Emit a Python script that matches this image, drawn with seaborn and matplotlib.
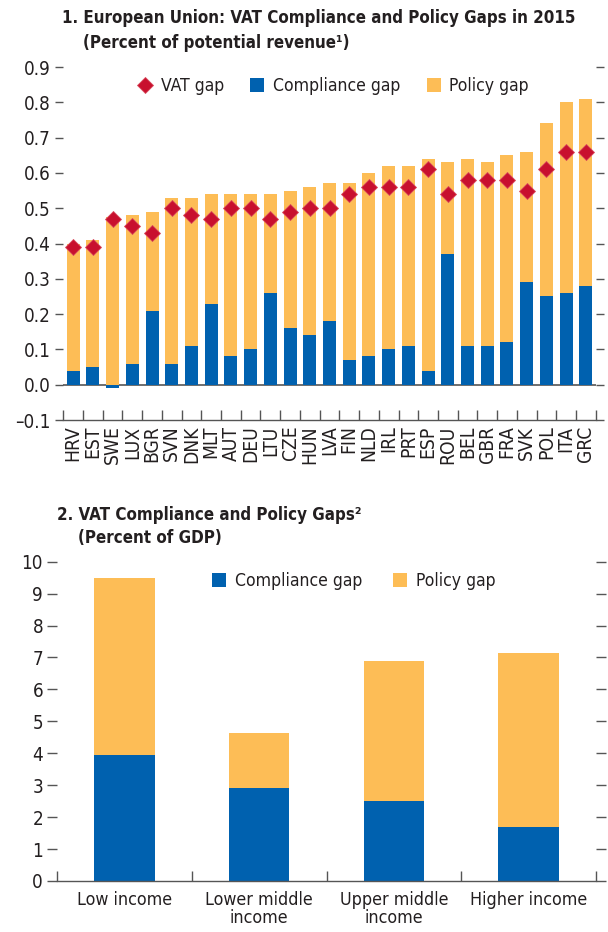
import numpy as np
import pandas as pd
import matplotlib
matplotlib.use("Agg")
import matplotlib.pyplot as plt
import seaborn as sns
from matplotlib import font_manager
from matplotlib.lines import Line2D
from matplotlib.patches import Patch

# ---------------- data ----------------
countries = ["HRV", "EST", "SWE", "LUX", "BGR", "SVN", "DNK", "MLT", "AUT", "DEU",
             "LTU", "CZE", "HUN", "LVA", "FIN", "NLD", "IRL", "PRT", "ESP", "ROU",
             "BEL", "GBR", "FRA", "SVK", "POL", "ITA", "GRC"]
compliance_eu = [0.04, 0.05, -0.01, 0.06, 0.21, 0.06, 0.11, 0.23, 0.08, 0.10,
                 0.26, 0.16, 0.14, 0.18, 0.07, 0.08, 0.10, 0.11, 0.04, 0.37,
                 0.11, 0.11, 0.12, 0.29, 0.25, 0.26, 0.28]
policy_eu = [0.36, 0.36, 0.475, 0.42, 0.28, 0.47, 0.42, 0.31, 0.46, 0.44,
             0.28, 0.39, 0.42, 0.39, 0.50, 0.52, 0.52, 0.51, 0.60, 0.26,
             0.53, 0.52, 0.53, 0.37, 0.49, 0.54, 0.53]
vat_gap_eu = [0.39, 0.39, 0.47, 0.45, 0.43, 0.50, 0.48, 0.47, 0.50, 0.50,
              0.47, 0.49, 0.50, 0.50, 0.54, 0.56, 0.56, 0.56, 0.61, 0.54,
              0.58, 0.58, 0.58, 0.55, 0.61, 0.66, 0.66]

income_groups = ["Low income", "Lower middle\nincome", "Upper middle\nincome", "Higher income"]
compliance_inc = [3.95, 2.92, 2.52, 1.70]
policy_inc = [5.55, 1.73, 4.38, 5.45]

eu_yticks = [-0.1, 0.0, 0.1, 0.2, 0.3, 0.4, 0.5, 0.6, 0.7, 0.8, 0.9]
inc_yticks = list(range(0, 11))

# ---------------- style ----------------
BLUE = "#0061AF"
ORANGE = "#FDBD56"
RED = "#C8102E"
TXT = "#231F20"
GRAY = "#555555"

sns.set_style("white")
names = {f.name for f in font_manager.fontManager.ttflist}
if "Liberation Sans Narrow" in names:
    plt.rcParams["font.family"] = ["Liberation Sans Narrow", "DejaVu Sans"]
else:
    plt.rcParams["font.family"] = ["DejaVu Sans"]
    plt.rcParams["font.stretch"] = "condensed"
plt.rcParams["text.color"] = TXT
plt.rcParams["axes.labelcolor"] = TXT
plt.rcParams["xtick.color"] = GRAY
plt.rcParams["ytick.color"] = GRAY
plt.rcParams["xtick.labelcolor"] = TXT
plt.rcParams["ytick.labelcolor"] = TXT

fig = plt.figure(figsize=(6.08, 9.32), dpi=100)
ax1 = fig.add_axes([63.3 / 608, 1 - 420 / 932, (595.7 - 63.3) / 608, (420 - 67) / 932])
ax2 = fig.add_axes([57 / 608, 1 - 881 / 932, (596 - 57) / 608, (881 - 561.7) / 932])

# ---------------- panel 1 ----------------
comp = np.array(compliance_eu)
pol = np.array(policy_eu)
total_pos = np.maximum(comp, 0) + pol
df1 = pd.DataFrame({"country": countries, "total": total_pos, "comp": comp, "vat": vat_gap_eu})

sns.barplot(data=df1, x="country", y="total", color=ORANGE, saturation=1,
            width=0.66, ax=ax1, linewidth=0)
sns.barplot(data=df1, x="country", y="comp", color=BLUE, saturation=1,
            width=0.66, ax=ax1, linewidth=0)
sns.pointplot(data=df1, x="country", y="vat", color=RED, marker="D",
              linestyle="none", markersize=8.2, markeredgewidth=0.6,
              markeredgecolor="#D94A5C", errorbar=None, ax=ax1)

ax1.set_xlim(-0.5, len(countries) - 0.5)
ax1.set_ylim(-0.1, 0.9)
ax1.axhline(0, color=GRAY, lw=1.2, zorder=0.5)
ax1.set_yticks(eu_yticks)
ax1.set_yticklabels([f"{v:.1f}" if v >= 0 else f"\u2013{abs(v):.1f}" for v in eu_yticks])
ax1.set_xticks(range(len(countries)))
ax1.set_xticklabels(countries, rotation=90, fontsize=13.8)
ax1.set_xticks(np.arange(-0.5, len(countries)), minor=True)
ax1.tick_params(axis="x", which="major", length=0, pad=4)
ax1.tick_params(axis="x", which="minor", direction="in", length=7, width=1, color=GRAY, bottom=True)
ax1.tick_params(axis="y", which="major", direction="out", length=6, width=1, labelsize=13.5,
                left=True, right=True, labelright=False, pad=3)
ax1.set_xlabel("")
ax1.set_ylabel("")
for s in ["top", "left", "right"]:
    ax1.spines[s].set_visible(False)
ax1.spines["bottom"].set_color(GRAY)
ax1.spines["bottom"].set_linewidth(1)

h1 = [Line2D([0], [0], marker="D", color=RED, linestyle="none", markersize=8.2,
             markeredgecolor="#D94A5C", markeredgewidth=0.6),
      Patch(facecolor=BLUE, edgecolor="none"),
      Patch(facecolor=ORANGE, edgecolor="none")]
ax1.legend(h1, ["VAT gap", "Compliance gap", "Policy gap"], ncol=3, loc="center left",
           bbox_to_anchor=((138 - 63.3) / 532.4, (420 - 86) / 353), frameon=False,
           fontsize=12.6, handlelength=0.8, handleheight=0.8, handletextpad=0.5,
           columnspacing=1.5, borderpad=0, borderaxespad=0)

fig.text(62 / 608, 1 - 18 / 932, "1. European Union: VAT Compliance and Policy Gaps in 2015",
         fontsize=12.2, fontweight="bold", va="center", ha="left")
fig.text(83 / 608, 1 - 43 / 932, "(Percent of potential revenue\u00b9)",
         fontsize=12.2, fontweight="bold", va="center", ha="left")

# ---------------- panel 2 ----------------
df2 = pd.DataFrame({"group": income_groups, "comp": compliance_inc,
                    "total": np.array(compliance_inc) + np.array(policy_inc)})
sns.barplot(data=df2, x="group", y="total", color=ORANGE, saturation=1, width=0.45,
            ax=ax2, linewidth=0)
sns.barplot(data=df2, x="group", y="comp", color=BLUE, saturation=1, width=0.45,
            ax=ax2, linewidth=0)
ax2.set_xlim(-0.5, len(income_groups) - 0.5)
ax2.set_ylim(0, 10)
ax2.set_yticks(inc_yticks)
ax2.set_xticks(range(len(income_groups)))
ax2.set_xticklabels(income_groups, fontsize=12.8, linespacing=1.05)
ax2.set_xticks(np.arange(-0.5, len(income_groups)), minor=True)
ax2.tick_params(axis="x", which="major", length=0, pad=7)
ax2.tick_params(axis="x", which="minor", direction="in", length=7, width=1, color=GRAY, bottom=True)
ax2.tick_params(axis="y", which="major", direction="out", length=7, width=1, labelsize=13.5,
                left=True, right=True, labelright=False, pad=3)
ax2.set_xlabel("")
ax2.set_ylabel("")
for s in ["top", "left", "right"]:
    ax2.spines[s].set_visible(False)
ax2.spines["bottom"].set_color(GRAY)
ax2.spines["bottom"].set_linewidth(1)

h2 = [Patch(facecolor=BLUE, edgecolor="none"), Patch(facecolor=ORANGE, edgecolor="none")]
ax2.legend(h2, ["Compliance gap", "Policy gap"], ncol=2, loc="center left",
           bbox_to_anchor=((212 - 57) / 539, (881 - 581) / 319.3), frameon=False,
           fontsize=12.6, handlelength=0.8, handleheight=0.8, handletextpad=0.5,
           columnspacing=1.75, borderpad=0, borderaxespad=0)

fig.text(57 / 608, 1 - 515 / 932, "2. VAT Compliance and Policy Gaps\u00b2",
         fontsize=12.2, fontweight="bold", va="center", ha="left")
fig.text(78 / 608, 1 - 538 / 932, "(Percent of GDP)",
         fontsize=12.2, fontweight="bold", va="center", ha="left")

fig.savefig("out.png", dpi=100)
